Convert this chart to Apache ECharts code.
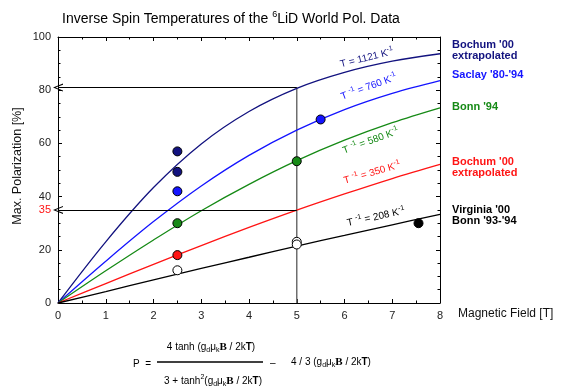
<!DOCTYPE html>
<html><head><meta charset="utf-8">
<script src="https://cdn.jsdelivr.net/npm/echarts@6/dist/echarts.min.js"></script>
<style>html,body{margin:0;padding:0;background:#fff}#c{width:565px;height:390px}</style>
</head><body><div id="c"></div>
<script>
// ---- data ----
const fieldT = [0, 1, 2, 3, 4, 5, 6, 7, 8];
const curve1121 = [0, 23.0, 43.4, 59.8, 72.0, 80.7, 86.7, 90.9, 93.7];
const curve760  = [0, 15.7, 30.6, 44.0, 55.5, 65.0, 72.7, 78.8, 83.6];
const curve580  = [0, 12.1, 23.7, 34.7, 44.6, 53.5, 61.2, 67.8, 73.4];
const curve350  = [0, 7.3, 14.5, 21.6, 28.4, 34.9, 41.0, 46.8, 52.1];
const curve208  = [0, 4.3, 8.7, 13.0, 17.2, 21.4, 25.4, 29.4, 33.3];

const bochumNavyPts = [[2.5, 57.0], [2.5, 49.3]];
const saclayPts     = [[2.5, 42.0], [5.5, 69.0]];
const bonn94Pts     = [[2.5, 30.0], [5.0, 53.3]];
const bochumRedPts  = [[2.5, 18.0]];
const virginiaPts   = [[2.5, 12.3], [5.0, 23.0], [5.0, 22.0]];
const bonn9394Pts   = [[7.55, 30.0]];

const refField = 5;
const refPolHigh = 81;
const refPolLow = 35;

const xTicks = [0, 1, 2, 3, 4, 5, 6, 7, 8];
const yTicks = [0, 20, 40, 60, 80, 100];

// ---- styling ----
const FONT = '"Liberation Sans", Arial, sans-serif';
const C = { navy: '#12127f', blue: '#1414ff', green: '#168a16', red: '#ff1414', black: '#000000', gray: '#6e6e6e' };
const chart = echarts.init(document.getElementById('c'), null, { renderer: 'canvas' });

function pairs(ys) { return fieldT.map((x, i) => [x, ys[i]]); }
function curve(name, ys, color) {
  return { name, type: 'line', data: pairs(ys), smooth: 0.35, symbol: 'none',
    lineStyle: { color, width: 1.3 }, itemStyle: { color }, z: 3, silent: true };
}
function pts(name, data, fill) {
  return { name, type: 'scatter', data, symbol: 'circle', symbolSize: 9,
    itemStyle: { color: fill, borderColor: '#000', borderWidth: 1, opacity: 1 }, z: 5, silent: true };
}
const chevron = 'path://M0,10 L5,0 L10,10 L8.6,10 L5,2.6 L1.4,10 Z';

const axisCommon = {
  axisLine: { show: true, onZero: false, lineStyle: { color: '#000', width: 1 } },
  axisTick: { show: true, inside: true, length: 4, lineStyle: { color: '#000' } },
  minorTick: { show: true, length: 2.5, lineStyle: { color: '#000' } },
  splitLine: { show: false }, minorSplitLine: { show: false }
};

const option = {
  animation: false,
  backgroundColor: '#fff',
  grid: { left: 58, right: 125, top: 37, bottom: 87, containLabel: false },
  xAxis: [
    Object.assign({ type: 'value', min: 0, max: 8, interval: 1, position: 'bottom',
      minorTick: { show: true, splitNumber: 2, length: 2.5, lineStyle: { color: '#000' } },
      axisLabel: { fontSize: 11, color: '#222', fontFamily: FONT, margin: 7,
        formatter: v => xTicks.includes(v) ? String(v) : '' } }, axisCommon,
      { minorTick: { show: true, splitNumber: 2, length: 2.5, lineStyle: { color: '#000' } } }),
    Object.assign({ type: 'value', min: 0, max: 8, interval: 1, position: 'top',
      axisLabel: { show: false } }, axisCommon,
      { minorTick: { show: true, splitNumber: 2, length: 2.5, lineStyle: { color: '#000' } } })
  ],
  yAxis: [
    Object.assign({ type: 'value', min: 0, max: 100, interval: 20, position: 'left',
      axisLabel: { fontSize: 11, color: '#222', fontFamily: FONT, margin: 7,
        formatter: v => yTicks.includes(v) ? String(v) : '' } }, axisCommon,
      { minorTick: { show: true, splitNumber: 4, length: 2.5, lineStyle: { color: '#000' } } }),
    Object.assign({ type: 'value', min: 0, max: 100, interval: 20, position: 'right',
      axisLabel: { show: false } }, axisCommon,
      { minorTick: { show: true, splitNumber: 4, length: 2.5, lineStyle: { color: '#000' } } })
  ],
  series: [
    { name: 'ref', type: 'line', data: [[refField, 0], [refField, refPolHigh]], symbol: 'none',
      lineStyle: { color: C.gray, width: 1.5 }, z: 2, silent: true,
      markLine: { silent: true, symbol: ['none', chevron], symbolSize: [8, 10],
        lineStyle: { color: '#000', width: 1, type: 'solid' },
        label: { show: false },
        data: [
          [{ coord: [refField, refPolHigh] }, { coord: [0, refPolHigh] }],
          [{ coord: [refField, refPolLow] }, { coord: [0, refPolLow],
            label: { show: true, position: 'end', formatter: String(refPolLow), color: C.red, fontSize: 11, fontFamily: FONT, distance: 7 } }]
        ] } },
    curve('T1121', curve1121, C.navy),
    curve('T760', curve760, C.blue),
    curve('T580', curve580, C.green),
    curve('T350', curve350, C.red),
    curve('T208', curve208, C.black),
    pts('Bochum00', bochumNavyPts, C.navy),
    pts('Saclay', saclayPts, C.blue),
    pts('Bonn94', bonn94Pts, C.green),
    pts('BochumRed', bochumRedPts, C.red),
    pts('Virginia', virginiaPts, '#ffffff'),
    pts('Bonn9394', bonn9394Pts, '#000000')
  ]
};
chart.setOption(option);

// ---- text annotations ----
const supR = (size) => ({ fontSize: size, verticalAlign: 'top', lineHeight: 14, fontFamily: FONT });
function curveLabel(txt, at, deg, color) {
  const p = chart.convertToPixel({ gridIndex: 0 }, at);
  return { type: 'text', x: p[0], y: p[1], rotation: deg * Math.PI / 180, silent: true, z: 10,
    style: { text: txt, fill: color, textAlign: 'center', textVerticalAlign: 'middle',
      fontSize: 10, fontFamily: FONT,
      rich: { a: { fontSize: 10, lineHeight: 14, fontFamily: FONT, fill: color, color },
              s: Object.assign(supR(7), { fill: color, color }) } } };
}
const curveLabels = [
  ['{a|T = 1121 K}{s|-1}', [6.47, 92.1], 14, C.navy],
  ['{a|T }{s|-1}{a| = 760 K}{s|-1}', [6.51, 81.2], 20, C.blue],
  ['{a|T }{s|-1}{a| = 580 K}{s|-1}', [6.55, 60.9], 20, C.green],
  ['{a|T }{s|-1}{a| = 350 K}{s|-1}', [6.58, 48.9], 16, C.red],
  ['{a|T }{s|-1}{a| = 208 K}{s|-1}', [6.66, 32.3], 12, C.black]
];
const sideLabels = [
  ["Bochum '00\nextrapolated", 45, C.navy],
  ["Saclay '80-'94", 75, C.blue],
  ["Bonn '94", 107, C.green],
  ["Bochum '00\nextrapolated", 162, C.red],
  ["Virginia '00\nBonn '93-'94", 210, C.black]
];
function txt(x, y, text, opts) {
  return { type: 'text', x, y, silent: true, z: 10,
    style: Object.assign({ text, fill: '#000', fontSize: 10, fontFamily: FONT,
      textAlign: 'left', textVerticalAlign: 'middle' }, opts || {}) };
}
const fRich = {
  a: { fontSize: 10, lineHeight: 14, fontFamily: FONT },
  sub: { fontSize: 7, lineHeight: 11, verticalAlign: 'bottom', fontFamily: FONT },
  sup: { fontSize: 7, lineHeight: 11, verticalAlign: 'top', fontFamily: FONT },
  B: { fontSize: 11, lineHeight: 14, fontWeight: 'bold', fontFamily: '"Liberation Serif", "DejaVu Serif", serif' },
  T: { fontSize: 10, lineHeight: 14, fontWeight: 'bold', fontFamily: FONT }
};
const arg = '{a|g}{sub|d}{a|μ}{sub|k}{B|B}{a| / 2k}{T|T}{a|)}';

const graphics = [
  txt(231, 19, '{a|Inverse Spin Temperatures of the }{s|6}{a|LiD World Pol. Data}',
    { textAlign: 'center', rich: { a: { fontSize: 14, lineHeight: 18, fontFamily: FONT }, s: { fontSize: 9, lineHeight: 12, verticalAlign: 'top', fontFamily: FONT } } }),
  txt(458, 314, 'Magnetic Field [T]', { fontSize: 12, fill: '#111' }),
  Object.assign(txt(18, 166, 'Max. Polarization [%]', { fontSize: 12.5, textAlign: 'center', fill: '#111' }), { rotation: Math.PI / 2 }),
  txt(133, 364, 'P  =', { fontSize: 10 }),
  txt(211, 347, '{a|4 tanh (}' + arg, { textAlign: 'center', rich: fRich }),
  { type: 'line', silent: true, shape: { x1: 157, y1: 362, x2: 263, y2: 362 }, style: { stroke: '#000', lineWidth: 1.3 } },
  txt(213, 381, '{a|3 + tanh}{sup|2}{a|(}' + arg, { textAlign: 'center', rich: fRich }),
  txt(270, 363, '–', { fontSize: 10 }),
  txt(291, 362, '{a|4 / 3 (}' + arg, { rich: fRich })
];
curveLabels.forEach(l => graphics.push(curveLabel(l[0], l[1], l[2], l[3])));
sideLabels.forEach(l => graphics.push(txt(452, l[1] + (l[0].includes('\n') ? 5.5 : 0), l[0],
  { fontSize: 11, fontWeight: 'bold', fill: l[2], lineHeight: 11 })));

chart.setOption({ graphic: { elements: graphics } });
</script></body></html>
